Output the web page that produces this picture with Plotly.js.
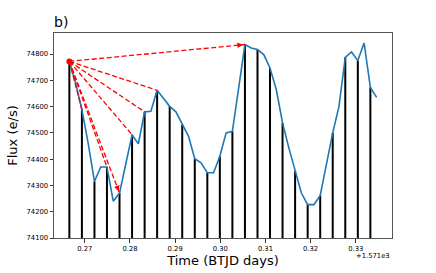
<!DOCTYPE html>
<html>
<head>
<meta charset="utf-8">
<script src="https://cdn.plot.ly/plotly-3.0.1.min.js"></script>
<style>html,body{margin:0;padding:0;background:#fff}#chart{width:436px;height:273px}</style>
</head>
<body>
<div id="chart"></div>
<script>
// Time offset (BTJD) and time values relative to it
const timeOffset = 1571;
const time = [0.26657,0.26796,0.26935,0.27074,0.27213,0.27351,0.27490,0.27629,0.27768,0.27907,
              0.28046,0.28185,0.28324,0.28463,0.28601,0.28740,0.28879,0.29018,0.29157,0.29296,
              0.29435,0.29574,0.29713,0.29851,0.29990,0.30129,0.30268,0.30407,0.30546,0.30685,
              0.30824,0.30963,0.31101,0.31240,0.31379,0.31518,0.31657,0.31796,0.31935,0.32074,
              0.32213,0.32351,0.32490,0.32629,0.32768,0.32907,0.33046,0.33185,0.33324,0.33463];
const flux = [74772,74690,74588,74460,74315,74370,74370,74240,74271,74379,
              74493,74458,74580,74582,74662,74632,74601,74580,74531,74487,
              74402,74386,74348,74348,74411,74500,74506,74670,74836,74823,
              74817,74798,74747,74665,74538,74443,74354,74271,74227,74227,
              74262,74386,74500,74601,74787,74808,74775,74842,74673,74635];
const stemBase = 74100;
const arrowSource = 0;
const arrowTargets = [2, 6, 8, 10, 12, 14, 28];
const xTicks = [0.27, 0.28, 0.29, 0.30, 0.31, 0.32, 0.33];
const yTicks = [74100, 74200, 74300, 74400, 74500, 74600, 74700, 74800];

const FONT = 'DejaVu Sans, sans-serif';

// black stems at every other sample
const sx = [], sy = [];
time.forEach((t, i) => { if (i % 2 === 0) { sx.push(t, t, null); sy.push(stemBase, flux[i], null); } });

const traces = [
  {x: sx, y: sy, mode: 'lines', line: {color: '#000', width: 2}, hoverinfo: 'skip', showlegend: false},
  {x: time, y: flux, mode: 'lines', line: {color: '#1f77b4', width: 1.6}, showlegend: false}
];

const annotations = [];
const x0 = time[arrowSource], y0 = flux[arrowSource];
arrowTargets.forEach(k => {
  const x1 = time[k], y1 = flux[k];
  traces.push({x: [x0, x1], y: [y0, y1], mode: 'lines',
    line: {color: 'red', width: 1.3, dash: '5px,2.5px'}, hoverinfo: 'skip', showlegend: false});
  annotations.push({x: x1, y: y1, xref: 'x', yref: 'y',
    ax: x1 - (x1 - x0) * 0.04, ay: y1 - (y1 - y0) * 0.04, axref: 'x', ayref: 'y',
    showarrow: true, arrowhead: 2, arrowsize: 0.85, arrowwidth: 1.3, arrowcolor: 'red',
    standoff: 2, text: ''});
});
traces.push({x: [x0], y: [y0], mode: 'markers', marker: {color: 'red', size: 6},
  hoverinfo: 'skip', showlegend: false});

annotations.push({xref: 'paper', yref: 'paper', x: 1, y: -0.088, xanchor: 'right', yanchor: 'middle',
  text: '+' + (timeOffset / 1000).toFixed(3) + 'e3', showarrow: false,
  font: {family: FONT, size: 6.8, color: '#000'}});

const layout = {
  width: 436, height: 273,
  margin: {l: 54, r: 44, t: 33, b: 35, pad: 0},
  paper_bgcolor: '#fff', plot_bgcolor: '#fff',
  showlegend: false,
  title: {text: 'b)', font: {family: FONT, size: 14, color: '#000'},
    x: 0, xref: 'paper', xanchor: 'left', y: 1 - 22 / 273, yref: 'container', yanchor: 'middle'},
  xaxis: {
    range: [0.26317, 0.33803], tickvals: xTicks, ticktext: xTicks.map(v => v.toFixed(2)),
    ticks: 'outside', ticklen: 3.5, tickwidth: 0.8, tickcolor: '#000',
    showline: true, mirror: true, linecolor: '#555', linewidth: 1,
    showgrid: false, zeroline: false,
    tickfont: {family: FONT, size: 6.8, color: '#000'},
    title: {text: 'Time (BTJD days)', font: {family: FONT, size: 13, color: '#000'}, standoff: 4}
  },
  yaxis: {
    range: [74100, 74880], tickvals: yTicks, ticktext: yTicks.map(String),
    ticks: 'outside', ticklen: 3.5, tickwidth: 0.8, tickcolor: '#000',
    showline: true, mirror: true, linecolor: '#555', linewidth: 1,
    showgrid: false, zeroline: false,
    tickfont: {family: FONT, size: 6.8, color: '#000'},
    title: {text: 'Flux (e/s)', font: {family: FONT, size: 13, color: '#000'}, standoff: 5}
  },
  annotations: annotations
};

Plotly.newPlot('chart', traces, layout, {staticPlot: true, displayModeBar: false});
</script>
</body>
</html>
